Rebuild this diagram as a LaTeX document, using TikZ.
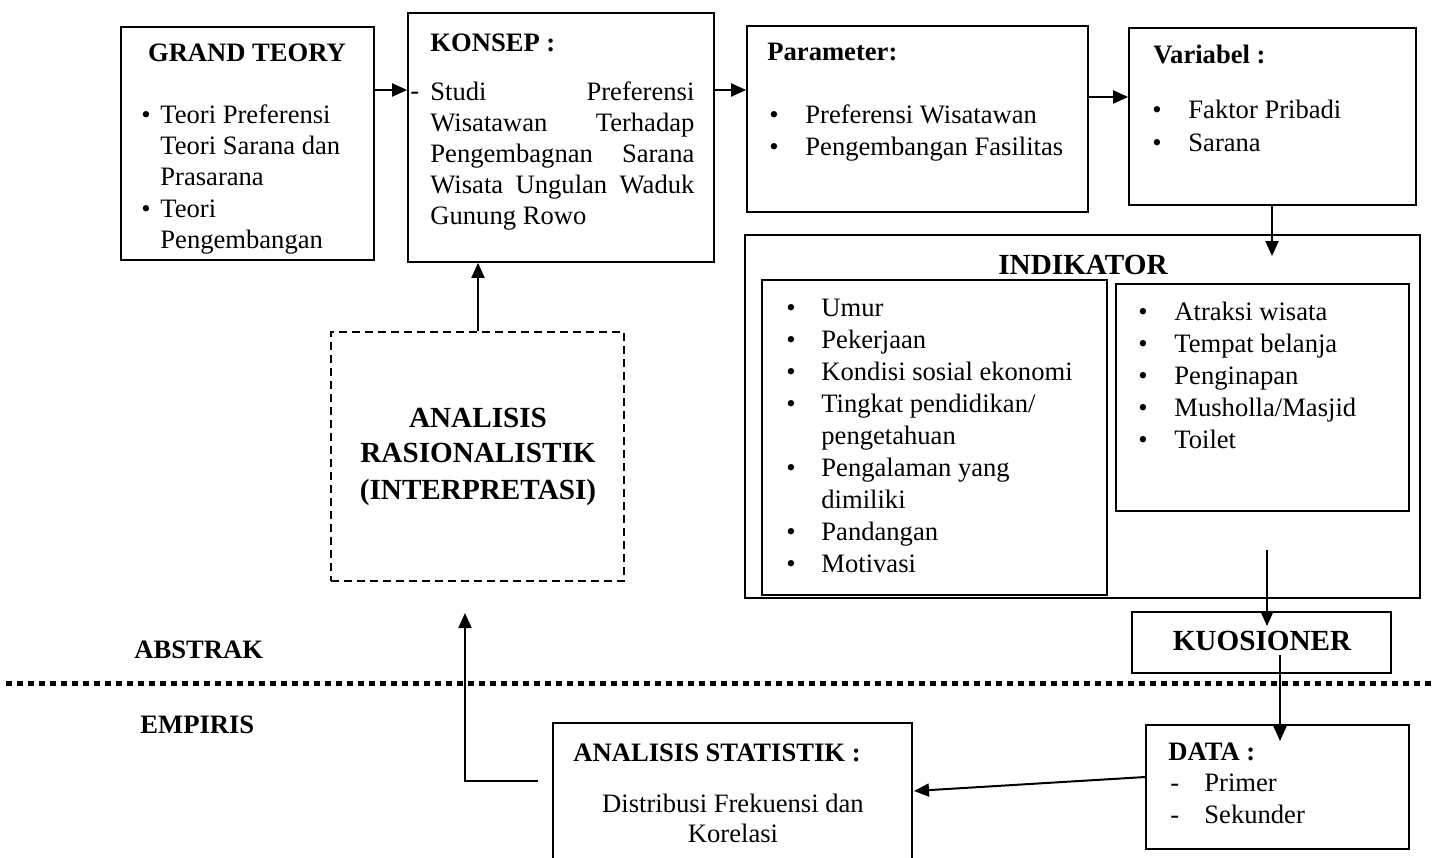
\documentclass[tikz,border=0pt]{standalone}
\usepackage{fontspec}
\setmainfont{Liberation Serif}
\usetikzlibrary{arrows.meta,fit}
\tikzset{
 box/.style={draw, line width=0.85pt, inner sep=0pt},
 dbox/.style={draw, line width=0.6pt, dash pattern=on 4pt off 2.5pt, inner sep=0pt},
 arr/.style={line width=1pt, -{Triangle[length=7.5pt,width=6.5pt]}},
 txt/.style={inner sep=0pt, anchor=base west, font=\fontsize{13.3}{16}\selectfont},
 btxt/.style={inner sep=0pt, anchor=base west, font=\fontsize{13.3}{16}\selectfont\bfseries},
 big/.style={inner sep=0pt, anchor=base, font=\fontsize{14.6}{18}\selectfont\bfseries},
 divider/.style={line width=2.5pt, dash pattern=on 3pt off 2.5pt},
}
\begin{document}
\begin{tikzpicture}[x=0.5pt,y=-0.5pt]
\useasboundingbox (0,0) rectangle (1434,857);
% boxes
\node[box, fit={(121,27) (374,260)}] (grand) {};
\node[box, fit={(408,13) (714,262)}] (konsep) {};
\node[box, fit={(747,26) (1088,212)}] (param) {};
\node[box, fit={(1129,28) (1416,205)}] (var) {};
\node[box, fit={(745,235) (1420,598)}] (ind) {};
\node[box, fit={(762,280) (1107,595)}] (indl) {};
\node[box, fit={(1116,284) (1409,511)}] (indr) {};
\node[box, fit={(1132,612) (1391,673)}] (kuos) {};
\node[dbox, fit={(331,332) (624,581)}] (rasio) {};
\node[box, fit={(553,723) (912,880)}] (stat) {};
\node[box, fit={(1146,725) (1409,849)}] (data) {};

% GRAND TEORY
\node[btxt, anchor=base] (gt) at (247,61) {GRAND TEORY};
\node[txt] (gb1) at (141,123) {•};
\node[txt] (gb2) at (141,217) {•};
\foreach \t/\y [count=\i] in {Teori Preferensi/123, Teori Sarana dan/154, Prasarana/185, Teori/217, Pengembangan/248}
  \node[txt] (g\i) at (160,\y) {\t};

% KONSEP
\node[btxt] (kt) at (430,51) {KONSEP :};
\node[txt] (kdash) at (410,99) {-};
\node[txt] (k1) at (430,100) {\makebox[132pt][s]{Studi Preferensi}};
\node[txt] (k2) at (430,131) {\makebox[132pt][s]{Wisatawan Terhadap}};
\node[txt] (k3) at (430,162) {\makebox[132pt][s]{Pengembagnan Sarana}};
\node[txt] (k4) at (430,193) {\makebox[132pt][s]{Wisata Ungulan Waduk}};
\node[txt] (k5) at (430,224) {Gunung Rowo};

% Parameter
\node[btxt] (pt) at (767,60) {Parameter:};
\foreach \t/\y [count=\i] in {Preferensi Wisatawan/123, Pengembangan Fasilitas/155}{
  \node[txt] (pb\i) at (769,\y) {•};
  \node[txt] (p\i) at (805,\y) {\t};
}

% Variabel
\node[btxt] (vt) at (1153,63) {Variabel :};
\foreach \t/\y [count=\i] in {Faktor Pribadi/118, Sarana/151}{
  \node[txt] (vb\i) at (1152,\y) {•};
  \node[txt] (v\i) at (1188,\y) {\t};
}

% INDIKATOR
\node[big] (it) at (1083,274) {INDIKATOR};
\foreach \t [count=\i] in {Umur, Pekerjaan, Kondisi sosial ekonomi, Tingkat pendidikan/, pengetahuan, Pengalaman yang, dimiliki, Pandangan, Motivasi}
  \node[txt] (l\i) at (821,{316+32*(\i-1)}) {\t};
\foreach \i in {1,2,3,4,6,8,9}
  \node[txt] (lb\i) at (786,{316+32*(\i-1)}) {•};
\foreach \t [count=\i] in {Atraksi wisata, Tempat belanja, Penginapan, Musholla/Masjid, Toilet}{
  \node[txt] (rb\i) at (1138,{320+32*(\i-1)}) {•};
  \node[txt] (r\i) at (1174,{320+32*(\i-1)}) {\t};
}

% KUOSIONER
\node[big] (kq) at (1262,650) {KUOSIONER};

% Rasionalistik
\node[big] (ra1) at (478,427) {ANALISIS};
\node[big] (ra2) at (478,462) {RASIONALISTIK};
\node[big] (ra3) at (478,499) {(INTERPRETASI)};

% abstrak / empiris
\node[btxt] (abs) at (134,658) {ABSTRAK};
\node[btxt] (emp) at (140,733) {EMPIRIS};
\coordinate (dl) at (6,683);
\coordinate (dr) at (1434,683);
\draw[divider] (dl) -- (dr);

% statistik
\node[btxt] (st) at (573,761) {ANALISIS STATISTIK :};
\node[txt, anchor=base] (s1) at (733,812) {Distribusi Frekuensi dan};
\node[txt, anchor=base] (s2) at (733,842) {Korelasi};

% data
\node[btxt] (dt) at (1168,760) {DATA :};
\node[txt] (dd1) at (1170,791) {-};
\node[txt] (dd2) at (1170,823) {-};
\node[txt] (d1) at (1204,791) {Primer};
\node[txt] (d2) at (1204,823) {Sekunder};

% connectors
\coordinate (a1) at (374,90);
\coordinate (a2) at (408,90);
\draw[arr] (grand.east |- a1) -- (konsep.west |- a2);
\coordinate (b1) at (714,90);
\draw[arr] (konsep.east |- b1) -- (param.west |- b1);
\coordinate (c1) at (1088,97);
\draw[arr] (param.east |- c1) -- (var.west |- c1);
\coordinate (e1) at (1272,205);
\coordinate (e2) at (1272,256);
\draw[arr] (var.south -| e1) -- (e2);
\coordinate (f1) at (1267,550);
\coordinate (f2) at (1267,626);
\draw[arr] (f1) -- (f2);
\coordinate (h1) at (1280,655);
\coordinate (h2) at (1280,741);
\draw[arr] (h1) -- (h2);
\coordinate (j1) at (1146,777);
\coordinate (j2) at (914,791);
\draw[arr] (data.west |- j1) -- (j2);
\coordinate (m1) at (538,781);
\coordinate (m2) at (465,613);
\draw[arr] (m1) -| (m2);
\coordinate (n1) at (478,332);
\draw[arr] (rasio.north -| n1) -- (konsep.south -| n1);
\end{tikzpicture}
\end{document}
